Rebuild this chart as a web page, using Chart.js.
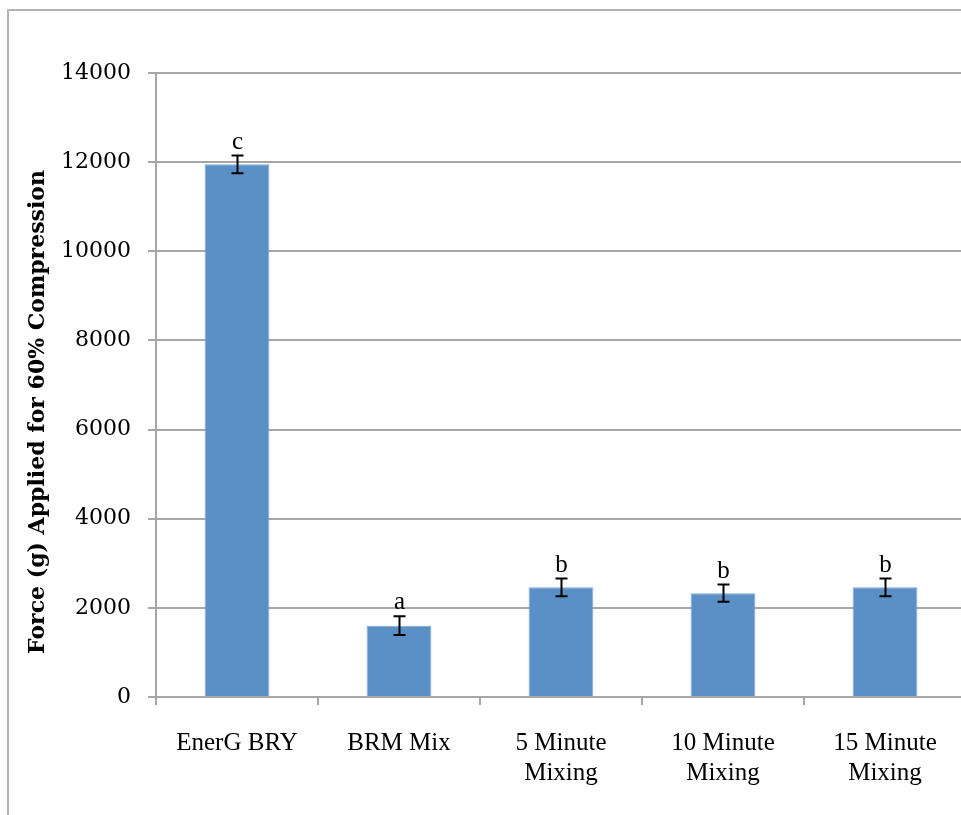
<!DOCTYPE html>
<html>
<head>
<meta charset="utf-8">
<script src="https://cdn.jsdelivr.net/npm/chart.js@4"></script>
<style>
  html, body { margin: 0; padding: 0; background: #fff; overflow: hidden; }
  #wrap { width: 975px; height: 815px; }
</style>
</head>
<body>
<div id="wrap"><canvas id="forceChart" width="975" height="815"></canvas></div>
<script>
// data
const categories = [['EnerG BRY'], ['BRM Mix'], ['5 Minute', 'Mixing'], ['10 Minute', 'Mixing'], ['15 Minute', 'Mixing']];
const forceValues = [11950, 1600, 2460, 2330, 2460];
const forceErrors = [200, 210, 200, 195, 200];
const groupLetters = ['c', 'a', 'b', 'b', 'b'];
const yTicks = [0, 2000, 4000, 6000, 8000, 10000, 12000, 14000];
const yTitle = 'Force (g) Applied for 60% Compression';

const serif = '"DejaVu Serif", "Liberation Serif", serif';
const libSerif = '"Liberation Serif", "DejaVu Serif", serif';
const gridGray = '#a6a6a6';

// outer frame of the figure (right / bottom run off the picture) + y title
const framePlugin = {
  id: 'frame',
  beforeDraw(chart) {
    const ctx = chart.ctx;
    ctx.save();
    ctx.strokeStyle = '#b4b4b4';
    ctx.lineWidth = 2;
    ctx.strokeRect(8, 10, 2000, 2000);
    // axis title sits a bit below the middle of the plot, like the original
    ctx.translate(38, 412);
    ctx.rotate(-Math.PI / 2);
    ctx.fillStyle = '#000';
    ctx.font = 'bold 22px ' + serif;
    ctx.textAlign = 'center';
    ctx.textBaseline = 'middle';
    ctx.fillText(yTitle, 0, 0);
    ctx.restore();
  }
};

// error bars + letter labels on top
const errorPlugin = {
  id: 'errbars',
  afterDatasetsDraw(chart) {
    const ctx = chart.ctx;
    const y = chart.scales.y;
    const meta = chart.getDatasetMeta(0);
    ctx.save();
    ctx.strokeStyle = '#000';
    ctx.lineWidth = 2;
    ctx.fillStyle = '#000';
    ctx.font = '25px ' + libSerif;
    ctx.textAlign = 'center';
    ctx.textBaseline = 'bottom';
    meta.data.forEach((bar, i) => {
      const x = Math.round(bar.x) + 0.5;
      const top = y.getPixelForValue(forceValues[i] + forceErrors[i]);
      const bot = y.getPixelForValue(forceValues[i] - forceErrors[i]);
      ctx.beginPath();
      ctx.moveTo(x, top); ctx.lineTo(x, bot);
      ctx.moveTo(x - 6, top); ctx.lineTo(x + 6, top);
      ctx.moveTo(x - 6, bot); ctx.lineTo(x + 6, bot);
      ctx.stroke();
      ctx.fillText(groupLetters[i], x, top - 1);
    });
    ctx.restore();
  }
};

new Chart(document.getElementById('forceChart'), {
  type: 'bar',
  data: {
    labels: categories,
    datasets: [{
      data: forceValues,
      backgroundColor: '#5b90c6',
      borderColor: '#7fa9d6',
      borderWidth: 1,
      categoryPercentage: 1,
      barPercentage: 0.4
    }]
  },
  options: {
    responsive: false,
    animation: false,
    layout: { padding: { top: 73, right: 9, left: 0, bottom: 0 } },
    plugins: { legend: { display: false }, tooltip: { enabled: false } },
    scales: {
      x: {
        afterFit(scale) { scale.height = 118; },
        grid: { drawOnChartArea: false, color: gridGray, lineWidth: 2, tickLength: 8, offset: true },
        border: { color: gridGray, width: 2 },
        ticks: { color: '#000', font: { family: libSerif, size: 25, lineHeight: 1.2 }, padding: 23, maxRotation: 0, autoSkip: false }
      },
      y: {
        min: 0,
        max: 14000,
        afterFit(scale) { scale.width = 156; },
        afterBuildTicks(scale) { scale.ticks = yTicks.map(v => ({ value: v })); },
        grid: { color: gridGray, lineWidth: 2, tickLength: 8 },
        border: { color: gridGray, width: 2 },
        ticks: {
          color: '#000',
          font: { family: serif, size: 22 },
          padding: 17,
          callback: v => String(v)
        }
      }
    }
  },
  plugins: [framePlugin, errorPlugin]
});
</script>
</body>
</html>
